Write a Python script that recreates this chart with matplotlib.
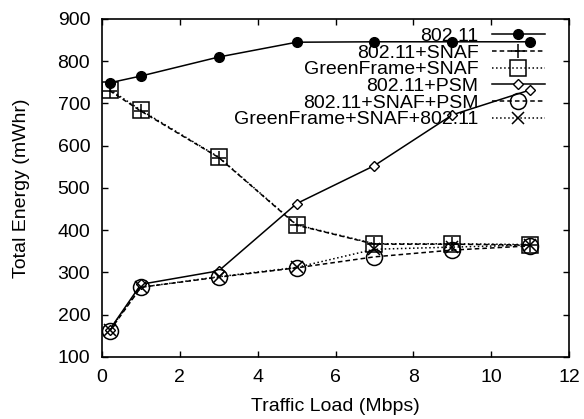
import matplotlib
matplotlib.use('Agg')
import matplotlib.pyplot as plt

plt.rcParams['font.family'] = ['Liberation Sans', 'DejaVu Sans']
plt.rcParams['font.size'] = 14

# Datos
carga = [0.2, 1, 3, 5, 7, 9, 11]
e_80211 = [749, 765, 810, 845, 846, 846, 846]
e_snaf = [730, 682, 572, 412, 367, 367, 365]
e_gf_snaf = [733, 684, 573, 413, 368, 368, 366]
e_psm = [165, 272, 304, 463, 553, 673, 732]
e_snaf_psm = [162, 265, 289, 311, 337, 353, 363]
e_gf_snaf_80211 = [165, 265, 290, 312, 355, 360, 365]

fig, ax = plt.subplots(figsize=(5.84, 4.19), dpi=100)
fig.subplots_adjust(left=0.1747, right=0.9743, top=0.9547, bottom=0.148)

lw = 1.1
guion = (3, 2)
ax.plot(carga, e_80211, 'k-', lw=lw, marker='o', ms=7, label='802.11')
ax.plot(carga, e_snaf, 'k--', lw=lw, dashes=guion, marker='+', ms=10, mew=1.1,
        label='802.11+SNAF')
ax.plot(carga, e_gf_snaf, 'k:', lw=lw, marker='s', ms=11.5, mfc='none', mew=1.1,
        label='GreenFrame+SNAF')
ax.plot(carga, e_psm, 'k-', lw=lw, marker='D', ms=5.5, mfc='white', mew=1.0,
        label='802.11+PSM')
ax.plot(carga, e_snaf_psm, 'k--', lw=lw, dashes=guion, marker='o', ms=11.5, mfc='none',
        mew=1.1, label='802.11+SNAF+PSM')
ax.plot(carga, e_gf_snaf_80211, 'k:', lw=lw, marker='x', ms=8, mew=1.1,
        label='GreenFrame+SNAF+802.11')

ax.set_xlim(0, 12)
ax.set_ylim(100, 900)
ax.set_xticks(range(0, 13, 2))
ax.set_yticks(range(100, 901, 100))
ax.tick_params(direction='in', top=True, right=True, length=4, width=1)
ax.tick_params(axis='y', pad=8.5)
ax.tick_params(axis='x', pad=9)
for s in ax.spines.values():
    s.set_linewidth(1.2)

ax.set_xlabel('Traffic Load (Mbps)', labelpad=8)
ax.set_ylabel('Total Energy (mWhr)', labelpad=20)

ax.legend(loc='upper right', bbox_to_anchor=(0.977, 1.015), frameon=False,
          markerfirst=False, handlelength=2.7, handletextpad=0.7,
          labelspacing=-0.05, borderpad=0.2)

plt.savefig('out.png', dpi=100)
